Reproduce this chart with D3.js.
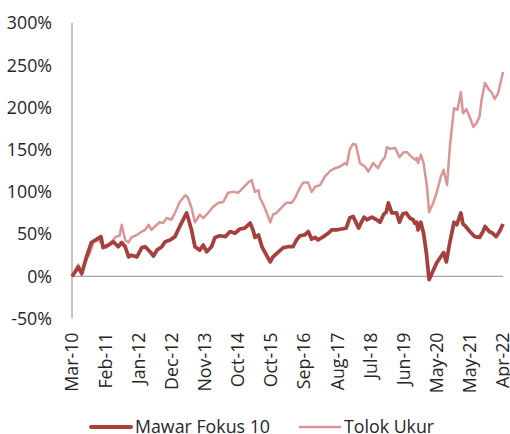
<!DOCTYPE html>
<meta charset="utf-8">
<script src="https://d3js.org/d3.v7.min.js"></script>
<style>
body { margin: 0; background: #fff; }
text { font-family: "Open Sans", sans-serif; fill: #262626; }
</style>
<body>
<div id="chart"></div>
<script>
// weekly data, week 0 = Mar-10, cumulative return in %
var mawarWeek = [0,7,9,14,21,28,36,42,45,53,60,67,72,77,82,86,94,101,106,113,118,123,130,135,142,149,156,166,173,178,185,190,195,202,207,214,222,229,236,243,250,258,262,265,270,275,279,287,291,299,306,313,320,325,330,337,342,347,352,356,364,371,376,383,390,397,402,407,411,415,419,423,427,434,441,446,451,455,458,463,470,474,479,484,489,494,496,499,501,505,509,513,517,522,528,533,538,542,547,553,557,563,566,570,576,583,590,595,598,604,609,614,619,624];
var mawarVal = [0,8,11,3,23,40,44,47,34,37,41,35,40,35,23,25,23,34,35,29,24,31,35,41,43,47,59,75,55,35,31,37,29,35,46,48,47,53,51,56,57,63,55,46,49,35,29,17,23,29,34,35,35,43,48,49,53,44,46,43,47,51,55,55,56,57,69,71,64,57,64,70,67,70,67,64,73,76,87,75,75,64,74,75,69,67,63,64,55,64,51,28,-4,5,16,22,28,17,40,64,61,75,62,59,53,47,46,53,59,53,51,47,53,62];

var tolokWeek = [0,9,14,21,26,31,38,45,50,57,64,69,72,77,82,86,94,101,106,111,115,120,127,132,137,144,149,156,164,168,173,178,185,190,197,204,212,219,226,233,241,248,255,260,265,270,272,277,282,287,291,296,303,310,318,323,330,335,342,347,352,359,366,374,381,388,395,398,402,407,411,417,424,429,436,443,448,453,456,460,468,474,480,485,492,497,499,501,505,509,514,517,523,528,534,538,543,547,553,558,563,566,571,576,581,586,590,593,598,603,608,612,617,624];
var tolokVal = [0,14,5,20,28,40,43,37,34,41,47,48,61,43,40,46,49,53,55,61,55,59,64,63,69,67,75,88,96,93,81,64,73,69,75,82,87,88,99,100,99,105,111,114,100,102,93,85,75,64,73,75,81,87,87,93,105,111,111,100,106,108,118,125,128,130,134,132,150,157,156,134,130,124,134,128,136,141,153,151,152,141,147,147,141,138,140,134,144,134,106,76,87,99,118,126,108,153,199,197,218,193,198,188,177,182,189,209,229,222,217,210,217,242];

var tickLabels = ["Mar-10","Feb-11","Jan-12","Dec-12","Nov-13","Oct-14","Oct-15","Sep-16","Aug-17","Jul-18","Jun-19","May-20","May-21","Apr-22"];
var tickWeeks = tickLabels.map(function(d, i) { return i * 48; });
var yTicks = [-50, 0, 50, 100, 150, 200, 250, 300];

var seriesNames = ["Mawar Fokus 10", "Tolok Ukur"];
var colors = ["#a5403c", "#d99694"];

var width = 510, height = 434;
var fontSize = "17.8px";
var svg = d3.select("#chart").append("svg")
    .attr("width", width)
    .attr("height", height);

var x = d3.scaleLinear().domain([0, 624]).range([72, 503]);
var y = d3.scaleLinear().domain([-50, 300]).range([318.5, 23]);

// y axis labels
svg.selectAll(".ylab")
  .data(yTicks)
  .enter().append("text")
    .attr("x", 52)
    .attr("y", function(d) { return y(d); })
    .attr("dy", "0.36em")
    .attr("text-anchor", "end")
    .style("font-size", fontSize)
    .text(function(d) { return d + "%"; });

// axis lines
svg.append("line")
  .attr("x1", x(0)).attr("x2", x(0))
  .attr("y1", y(300)).attr("y2", y(-50))
  .attr("stroke", "#8c8c8c").attr("stroke-width", 1);
svg.append("line")
  .attr("x1", x(0)).attr("x2", x(624))
  .attr("y1", y(0)).attr("y2", y(0))
  .attr("stroke", "#8c8c8c").attr("stroke-width", 1);

// x labels (rotated, sitting under the plot)
svg.selectAll(".xlab")
  .data(tickWeeks)
  .enter().append("text")
    .attr("transform", function(d) { return "translate(" + x(d) + "," + (y(-50) + 14) + ")rotate(-90)"; })
    .attr("dy", "0.36em")
    .attr("text-anchor", "end")
    .style("font-size", fontSize)
    .text(function(d, i) { return tickLabels[i]; });

var line = d3.line()
    .x(function(d) { return x(d[0]); })
    .y(function(d) { return y(d[1]); });

var tolok = d3.zip(tolokWeek, tolokVal);
var mawar = d3.zip(mawarWeek, mawarVal);

svg.append("path")
  .datum(tolok)
  .attr("d", line)
  .attr("fill", "none")
  .attr("stroke", colors[1])
  .attr("stroke-width", 2.5)
  .attr("stroke-linejoin", "round");

svg.append("path")
  .datum(mawar)
  .attr("d", line)
  .attr("fill", "none")
  .attr("stroke", colors[0])
  .attr("stroke-width", 3.75)
  .attr("stroke-linejoin", "round");

// legend
var legend = [
  {name: seriesNames[0], x1: 91, x2: 131, w: 4, c: colors[0]},
  {name: seriesNames[1], x1: 300, x2: 340, w: 2.5, c: colors[1]}
];
var lg = svg.selectAll(".legend")
  .data(legend)
  .enter().append("g");
lg.append("line")
  .attr("x1", function(d) { return d.x1; })
  .attr("x2", function(d) { return d.x2; })
  .attr("y1", 427).attr("y2", 427)
  .attr("stroke", function(d) { return d.c; })
  .attr("stroke-width", function(d) { return d.w; })
  .attr("stroke-linecap", "round");
lg.append("text")
  .attr("x", function(d) { return d.x2 + 4; })
  .attr("y", 433)
  .style("font-size", fontSize)
  .text(function(d) { return d.name; });
</script>
</body>
